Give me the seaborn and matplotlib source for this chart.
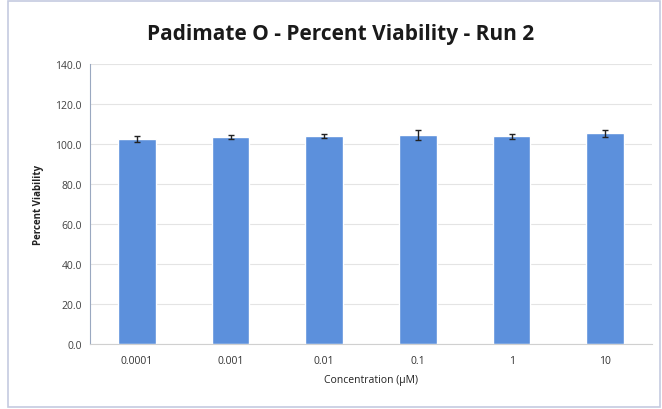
import matplotlib
matplotlib.use("Agg")
import matplotlib.pyplot as plt
import seaborn as sns
import numpy as np
import pandas as pd
from matplotlib.patches import Rectangle

concentrations = ["0.0001", "0.001", "0.01", "0.1", "1", "10"]
viability = [102.3, 103.5, 104.0, 104.6, 103.8, 105.4]
errors = [1.5, 1.0, 1.2, 2.5, 1.4, 1.8]
y_ticks = [0, 20, 40, 60, 80, 100, 120, 140]

sns.set_theme(style="white")
plt.rcParams["font.family"] = ["Open Sans", "DejaVu Sans"]

df = pd.DataFrame({"conc": concentrations, "val": viability})

fig = plt.figure(figsize=(6.62, 4.10), dpi=100)
ax = fig.add_axes([0.136, 0.1585, 0.849, 0.683])

sns.barplot(data=df, x="conc", y="val", color="#5C90DC", saturation=1,
            width=0.4, ax=ax, errorbar=None)
ax.errorbar(np.arange(len(concentrations)), viability, yerr=errors, fmt="none",
            ecolor="#222222", elinewidth=1, capsize=2.5, capthick=1, zorder=5)

ax.set_ylim(0, 140)
ax.set_xlim(-0.5, len(concentrations) - 0.5)
ax.set_yticks(y_ticks)
ax.set_yticklabels([f"{t:.1f}" for t in y_ticks], fontsize=7.5, color="#404040")
ax.set_xticklabels(concentrations, fontsize=7.5, color="#333333")
ax.yaxis.grid(True, color="#e4e4e4", linewidth=0.8)
ax.set_axisbelow(True)
for s in ["top", "right"]:
    ax.spines[s].set_visible(False)
ax.spines["left"].set_color("#9aa8c0")
ax.spines["bottom"].set_color("#d0d0d0")
ax.spines["left"].set_linewidth(0.8)
ax.spines["bottom"].set_linewidth(0.8)
ax.tick_params(axis="y", length=3, color="#9aa8c0", pad=3)
ax.tick_params(axis="x", length=0, pad=8)
ax.set_xticks(np.arange(len(concentrations) + 1) - 0.5, minor=True)
ax.tick_params(axis="x", which="minor", length=3, color="#d0d0d0")

ax.set_ylabel("Percent Viability", fontsize=7, fontweight="bold", color="#222222", labelpad=8)
ax.set_xlabel("Concentration (µM)", fontsize=7.5, color="#222222", labelpad=6)
fig.text(0.515, 0.915, "Padimate O - Percent Viability - Run 2", ha="center", va="center",
         fontsize=15, fontweight="bold", color="#1a1a1a")

fig.patches.append(Rectangle((0.012, 0.006), 0.985, 0.99, transform=fig.transFigure,
                             fill=False, edgecolor="#c5cbe0", linewidth=1.2))

fig.savefig("out.png", dpi=100)
